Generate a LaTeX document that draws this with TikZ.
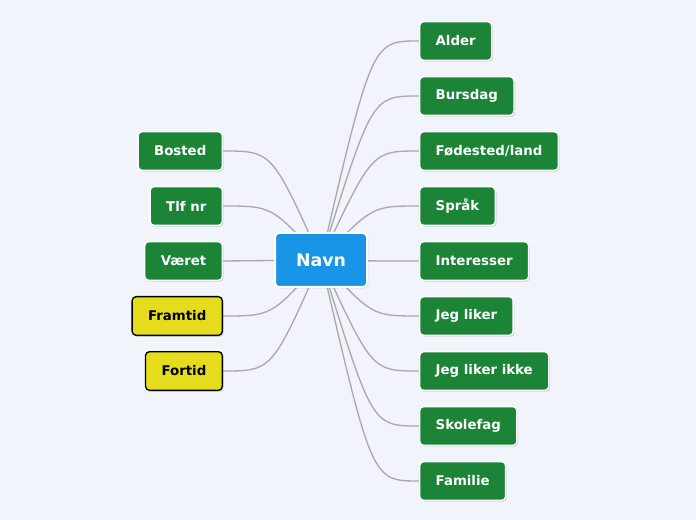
\documentclass[tikz,border=0pt]{standalone}
\usepackage{fontspec}
\setmainfont{DejaVu Sans}
\usepackage{tikz}
\usetikzlibrary{shadows}
\pgfdeclarelayer{bglayer}
\pgfdeclarelayer{edgelayer}
\pgfdeclarelayer{nodelayer}
\pgfsetlayers{bglayer,edgelayer,nodelayer,main}
\definecolor{bg}{RGB}{242,244,252}
\definecolor{leafgreen}{RGB}{27,132,55}
\definecolor{rootblue}{RGB}{26,148,230}
\definecolor{noteyellow}{RGB}{230,220,30}
\definecolor{linegray}{RGB}{170,170,170}
\tikzstyle{edge}=[draw=linegray, line width=1pt]
\tikzstyle{root}=[rectangle, rounded corners=3pt, fill=rootblue, draw=white, line width=1.5pt, text=white, font=\fontsize{13}{15}\selectfont\bfseries, minimum width=69pt, minimum height=40.5pt, drop shadow={opacity=0.25, shadow xshift=1pt, shadow yshift=-1pt}]
\tikzstyle{leaf}=[rectangle, rounded corners=3pt, fill=leafgreen, draw=white, line width=1pt, text=white, font=\fontsize{10}{12}\selectfont\bfseries, inner xsep=12pt, minimum height=29pt, drop shadow={opacity=0.3, shadow xshift=1pt, shadow yshift=-1pt}]
\tikzstyle{note}=[leaf, fill=noteyellow, draw=black, text=black]

\begin{document}
\begin{tikzpicture}[x=0.75pt, y=-0.75pt]
			\begin{pgfonlayer}{bglayer}
			\fill [bg] (0, 0) rectangle (696, 520);
			\end{pgfonlayer}
			\useasboundingbox (0, 0) rectangle (696, 520);
			\begin{pgfonlayer}{nodelayer}
			\node [style=root] (0) at (321, 260) {Navn};
			\node [style=leaf, anchor=west] (1) at (419, 41) {Alder};
			\node [style=leaf, anchor=west] (2) at (419, 96) {Bursdag};
			\node [style=leaf, anchor=west] (3) at (419, 151) {Fødested/land};
			\node [style=leaf, anchor=west] (4) at (419, 206) {Språk};
			\node [style=leaf, anchor=west] (5) at (419, 261) {Interesser};
			\node [style=leaf, anchor=west] (6) at (419, 316) {Jeg liker};
			\node [style=leaf, anchor=west] (7) at (419, 371) {Jeg liker ikke};
			\node [style=leaf, anchor=west] (8) at (419, 426) {Skolefag};
			\node [style=leaf, anchor=west] (9) at (419, 481) {Familie};
			\node [style=leaf, anchor=east] (10) at (223, 151) {Bosted};
			\node [style=leaf, anchor=east] (11) at (223, 206) {Tlf nr};
			\node [style=leaf, anchor=east] (12) at (223, 261) {Været};
			\node [style=note, anchor=east] (13) at (223, 316) {Framtid};
			\node [style=note, anchor=east] (14) at (223, 371) {Fortid};
			\coordinate (r) at (372, 260);
			\coordinate (l) at (272, 260);
			\end{pgfonlayer}
			\begin{pgfonlayer}{edgelayer}
			\draw [style=edge] (0.center) .. controls (r |- 1.west) .. (1.west);
			\draw [style=edge] (0.center) .. controls (r |- 2.west) .. (2.west);
			\draw [style=edge] (0.center) .. controls (r |- 3.west) .. (3.west);
			\draw [style=edge] (0.center) .. controls (r |- 4.west) .. (4.west);
			\draw [style=edge] (0.center) .. controls (r |- 5.west) .. (5.west);
			\draw [style=edge] (0.center) .. controls (r |- 6.west) .. (6.west);
			\draw [style=edge] (0.center) .. controls (r |- 7.west) .. (7.west);
			\draw [style=edge] (0.center) .. controls (r |- 8.west) .. (8.west);
			\draw [style=edge] (0.center) .. controls (r |- 9.west) .. (9.west);
			\draw [style=edge] (0.center) .. controls (l |- 10.east) .. (10.east);
			\draw [style=edge] (0.center) .. controls (l |- 11.east) .. (11.east);
			\draw [style=edge] (0.center) .. controls (l |- 12.east) .. (12.east);
			\draw [style=edge] (0.center) .. controls (l |- 13.east) .. (13.east);
			\draw [style=edge] (0.center) .. controls (l |- 14.east) .. (14.east);
			\end{pgfonlayer}
			\end{tikzpicture}
\end{document}
